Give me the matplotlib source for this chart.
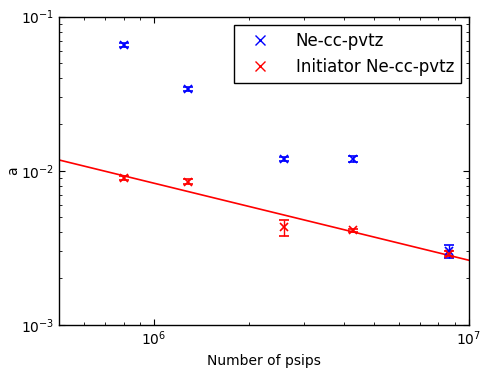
import numpy as np
import matplotlib
matplotlib.use("Agg")
import matplotlib.pyplot as plt
from matplotlib.ticker import NullFormatter

# Number of psips for each calculation
psips = [8.0e5, 1.28e6, 2.58e6, 4.29e6, 8.64e6]

# Ne-cc-pvtz
a_full = [0.0655, 0.0338, 0.0119, 0.0119, 0.0030]
a_full_err = [0.0020, 0.0010, 0.0004, 0.0005, 0.0003]

# Initiator Ne-cc-pvtz
a_init = [0.0090, 0.0085, 0.0043, 0.0041, 0.0029]
a_init_err = [0.0003, 0.0003, 0.0005, 0.0001, 0.0001]

# power law fit to the initiator data, a = c * N**p
fit_c = 8.3
fit_p = -0.5


def main():

    plt.rcParams.update({'font.size': 10, 'xtick.direction': 'in',
                         'ytick.direction': 'in', 'xtick.top': True,
                         'ytick.right': True})

    fig, ax = plt.subplots(figsize=(4.82, 3.70), dpi=100)
    fig.subplots_adjust(left=0.123, right=0.973, bottom=0.122, top=0.955)

    ax.errorbar(psips, a_full, yerr=a_full_err, fmt='x', color='blue',
                ms=6, mew=1.2, capsize=3.5, elinewidth=1)
    ax.errorbar(psips, a_init, yerr=a_init_err, fmt='x', color='red',
                ms=6, mew=1.2, capsize=3.5, elinewidth=1)

    nx = np.logspace(np.log10(5e5), 7, 50)
    ax.plot(nx, fit_c * nx**fit_p, '-', color='red', lw=1.2)

    # legend handles only show the marker
    h1, = ax.plot([], [], 'x', color='blue', ms=7, mew=1)
    h2, = ax.plot([], [], 'x', color='red', ms=7, mew=1)
    leg = ax.legend([h1, h2], ['Ne-cc-pvtz', 'Initiator Ne-cc-pvtz'],
                    loc='upper right', numpoints=1, fontsize=12,
                    fancybox=False, framealpha=1, edgecolor='black',
                    handletextpad=1.0, handlelength=2.3,
                    borderaxespad=0.5)
    leg.get_frame().set_linewidth(1)

    ax.set_xscale('log')
    ax.set_yscale('log')
    ax.set_xlim(5e5, 1e7)
    ax.set_ylim(1e-3, 1e-1)
    ax.xaxis.set_minor_formatter(NullFormatter())
    ax.tick_params(which='major', length=4, width=0.8)
    ax.tick_params(which='minor', length=2, width=0.6)
    for sp in ax.spines.values():
        sp.set_linewidth(1)

    ax.set_xlabel('Number of psips')
    ax.set_ylabel('a', labelpad=1)

    fig.savefig('out.png')


if __name__ == "__main__":
    main()
